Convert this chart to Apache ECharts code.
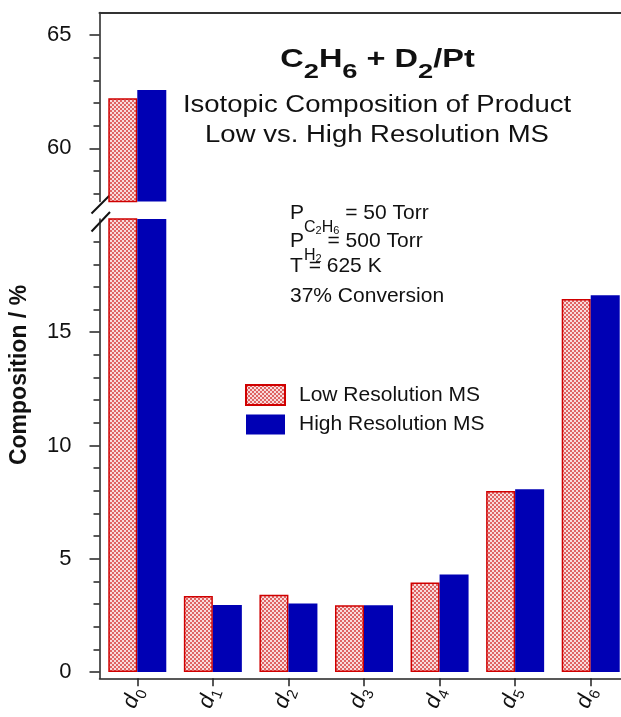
<!DOCTYPE html>
<html>
<head>
<meta charset="utf-8">
<script src="https://cdn.jsdelivr.net/npm/echarts@6/dist/echarts.min.js"></script>
<style>
html, body { margin: 0; padding: 0; background: #fff; }
#chart { width: 621px; height: 717px; }
</style>
</head>
<body>
<div id="chart"></div>
<script>
// isotopic composition of the ethane product, %
var categories = ['0', '1', '2', '3', '4', '5', '6'];   // subscript of d
var lowRes  = [62.21, 3.35, 3.41, 2.94, 3.95, 7.99, 16.47];
var highRes = [62.58, 2.96, 3.02, 2.94, 4.30, 8.07, 16.63];

// broken y axis: upper piece and lower piece
var topMin = 57.65, topMax = 66;
var lowMin = -0.28, lowMax = 20;
var majorTop = [60, 65];
var minorTop = [58, 59, 61, 62, 63, 64];
var majorLow = [0, 5, 10, 15];
var minorLow = [1, 2, 3, 4, 6, 7, 8, 9, 11, 12, 13, 14, 16, 17, 18, 19];

var FONT = '"Liberation Sans", Arial, Helvetica, sans-serif';
var INK = '#111';
var AXIS = '#222';

function checker() {
    var c = document.createElement('canvas');
    c.width = 4; c.height = 4;
    var g = c.getContext('2d');
    g.fillStyle = '#f8dcdc'; g.fillRect(0, 0, 4, 4);
    g.fillStyle = '#df6464'; g.fillRect(0, 0, 2, 2); g.fillRect(2, 2, 2, 2);
    return c;
}
var lowStyle = { color: { image: checker(), repeat: 'repeat' }, borderColor: '#d00000', borderWidth: 1.5 };
var highStyle = { color: '#0000b4', borderWidth: 0 };

function valueAxis(grid, min, max, ticks, len, labels) {
    return {
        type: 'value', gridIndex: grid, position: 'left', min: min, max: max,
        axisLine: { show: labels, lineStyle: { color: AXIS, width: 1.5 } },
        axisTick: { show: true, inside: false, length: len, customValues: ticks,
                    lineStyle: { color: AXIS, width: 1.5 } },
        axisLabel: { show: labels, customValues: ticks, margin: 28, fontSize: 22,
                     color: INK, fontFamily: FONT },
        splitLine: { show: false }
    };
}

var catLabel = {
    show: true, rotate: 70, margin: 10, color: INK,
    formatter: function (v) { return '{i|d}{s|' + v + '}'; },
    rich: {
        i: { fontSize: 22, fontStyle: 'italic', fontFamily: FONT, color: INK, lineHeight: 24, verticalAlign: 'top' },
        s: { fontSize: 15, fontFamily: FONT, color: INK, lineHeight: 16, verticalAlign: 'top', padding: [11, 0, 0, 0] }
    }
};

var subRich = {
    t:  { fontSize: 21, fontFamily: FONT, fill: INK, color: INK, lineHeight: 22, verticalAlign: 'top' },
    s:  { fontSize: 16, fontFamily: FONT, fill: INK, color: INK, lineHeight: 16, verticalAlign: 'top', padding: [17, 0, 0, 0] },
    ss: { fontSize: 11, fontFamily: FONT, fill: INK, color: INK, lineHeight: 11, verticalAlign: 'top', padding: [23, 0, 0, 0] }
};
function noteLine(text, y) {
    return { type: 'text', x: 290, y: y,
        style: { text: text, rich: subRich, align: 'left', verticalAlign: 'top', fill: INK } };
}

var chart = echarts.init(document.getElementById('chart'), null, { renderer: 'canvas' });

var option = {
    animation: false,
    backgroundColor: '#fff',
    textStyle: { fontFamily: FONT },
    grid: [
        { left: 99.5, top: 12.5, width: 529, height: 189.1, outerBoundsMode: 'none', containLabel: false },
        { left: 99.5, top: 219, width: 529, height: 459.3, outerBoundsMode: 'none', containLabel: false }
    ],
    xAxis: [
        { type: 'category', gridIndex: 0, data: categories, position: 'top',
          axisLine: { show: true, onZero: false, lineStyle: { color: '#333', width: 2 } },
          axisTick: { show: false }, axisLabel: { show: false }, splitLine: { show: false } },
        { type: 'category', gridIndex: 1, data: categories, position: 'bottom',
          axisLine: { show: true, onZero: false, lineStyle: { color: AXIS, width: 1.5 } },
          axisTick: { show: true, alignWithLabel: true, length: 8, lineStyle: { color: AXIS, width: 1.5 } },
          axisLabel: catLabel, splitLine: { show: false } }
    ],
    yAxis: [
        valueAxis(0, topMin, topMax, majorTop, 10, true),
        valueAxis(0, topMin, topMax, minorTop, 6, false),
        valueAxis(1, lowMin, lowMax, majorLow, 10, true),
        valueAxis(1, lowMin, lowMax, minorLow, 6, false)
    ],
    legend: {
        data: ['Low Resolution MS', 'High Resolution MS'],
        orient: 'vertical', left: 245, top: 384, padding: 0,
        itemWidth: 39, itemHeight: 20, itemGap: 8, icon: 'rect', selectedMode: false,
        textStyle: { fontSize: 21, color: INK, fontFamily: FONT, padding: [0, 0, 0, 9] }
    },
    series: [
        { name: 'Low Resolution MS', type: 'bar', xAxisIndex: 0, yAxisIndex: 0,
          data: lowRes.map(function (v) { return v > topMin ? v : '-'; }),
          barWidth: 29, barGap: '0%', itemStyle: lowStyle, clip: true },
        { name: 'High Resolution MS', type: 'bar', xAxisIndex: 0, yAxisIndex: 0,
          data: highRes.map(function (v) { return v > topMin ? v : '-'; }),
          barWidth: 29, barGap: '0%', itemStyle: highStyle, clip: true },
        { name: 'Low Resolution MS', type: 'bar', xAxisIndex: 1, yAxisIndex: 2,
          data: lowRes, barWidth: 29, barGap: '0%', itemStyle: lowStyle, clip: true },
        { name: 'High Resolution MS', type: 'bar', xAxisIndex: 1, yAxisIndex: 2,
          data: highRes, barWidth: 29, barGap: '0%', itemStyle: highStyle, clip: true }
    ],
    graphic: [
        // axis break marks
        { type: 'line', shape: { x1: 91.5, y1: 213.5, x2: 110, y2: 195 }, style: { stroke: INK, lineWidth: 2 } },
        { type: 'line', shape: { x1: 91.5, y1: 231.5, x2: 110, y2: 212 }, style: { stroke: INK, lineWidth: 2 } },
        // y axis name
        { type: 'text', x: 20, y: 375, rotation: Math.PI / 2,
          style: { text: 'Composition / %', fontSize: 23, fontWeight: 'bold', fontFamily: FONT,
                   fill: INK, align: 'center', verticalAlign: 'middle' } },
        // title
        { type: 'text', x: 377.5, y: 47.5, scaleX: 1.3,
          style: { text: '{m|C}{s|2}{m|H}{s|6}{m| + D}{s|2}{m|/Pt}', align: 'center', verticalAlign: 'top', fill: INK,
                   rich: {
                       m: { fontSize: 25, fontWeight: 'bold', fontFamily: FONT, fill: INK, lineHeight: 26, verticalAlign: 'top' },
                       s: { fontSize: 21, fontWeight: 'bold', fontFamily: FONT, fill: INK, lineHeight: 22, verticalAlign: 'top', padding: [14, 0, 0, 0] }
                   } } },
        { type: 'text', x: 377, y: 106, scaleX: 1.17,
          style: { text: 'Isotopic Composition of Product', fontSize: 23.5, fontFamily: FONT, fill: INK,
                   align: 'center', verticalAlign: 'middle' } },
        { type: 'text', x: 377, y: 136, scaleX: 1.17,
          style: { text: 'Low vs. High Resolution MS', fontSize: 23.5, fontFamily: FONT, fill: INK,
                   align: 'center', verticalAlign: 'middle' } },
        // conditions
        noteLine('{t|P}{s|C}{ss|2}{s|H}{ss|6}{t| = 50 Torr}', 202.5),
        noteLine('{t|P}{s|H}{ss|2}{t| = 500 Torr}', 230.8),
        noteLine('{t|T = 625 K}', 255.5),
        noteLine('{t|37% Conversion}', 285.5)
    ]
};

chart.setOption(option);
</script>
</body>
</html>
